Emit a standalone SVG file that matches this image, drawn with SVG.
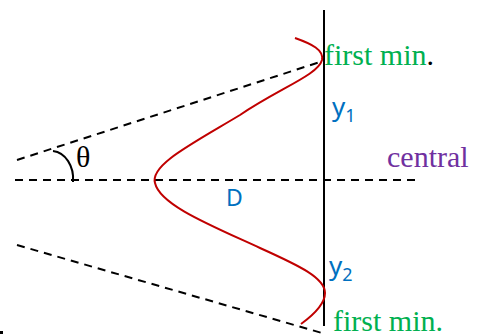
<svg xmlns="http://www.w3.org/2000/svg" width="486" height="336" viewBox="0 0 486 336">
<style>
.dash{stroke:#000;stroke-width:2;stroke-dasharray:8,6;fill:none}
.serif{font-family:"Liberation Serif","Times New Roman",serif;font-size:30px}
.sans{font-family:"Noto Sans","Liberation Sans",sans-serif;fill:#0070C0}
.green{fill:#00B050}
</style>
<rect width="486" height="336" fill="#fff"/>
<g id="connectors">
<line class="dash" x1="17" y1="160" x2="320" y2="62"/>
<line class="dash" x1="15" y1="180" x2="416" y2="180"/>
<line class="dash" x1="17" y1="245" x2="322" y2="333"/>
<line x1="324" y1="10" x2="324" y2="326" stroke="#000" stroke-width="2"/>
<path d="M53,151 A22,28 0 0 1 73,182" fill="none" stroke="#000" stroke-width="2"/>
<path d="M295,38 C312,44 324,50 322,60 C318,75 280,88 240,115 C190,145 150,165 155,183 C160,205 210,225 260,248 C300,266 325,278 325,293 C325,305 312,316 301,324" fill="none" stroke="#C00000" stroke-width="2"/>
</g>
<g id="label-first-min-top"><text class="serif" x="324" y="65"><tspan class="green">first min</tspan><tspan fill="#000">.</tspan></text></g>
<g id="label-first-min-bottom"><text class="serif green" x="333" y="331">first min.</text></g>
<g id="label-central"><text class="serif" x="387" y="167" fill="#7030A0">central</text></g>
<g id="label-theta"><text class="serif" x="76" y="167" fill="#000">θ</text></g>
<g id="label-D"><text class="sans" x="226" y="206" font-size="23">D</text></g>
<g id="label-y1"><text class="sans" x="332" y="116" font-size="26">y<tspan font-size="18" dy="6">1</tspan></text></g>
<g id="label-y2"><text class="sans" x="329" y="275" font-size="26">y<tspan font-size="18" dy="6">2</tspan></text></g>
<g id="dot"><rect x="0" y="331" width="3" height="3" fill="#000"/></g>
</svg>
